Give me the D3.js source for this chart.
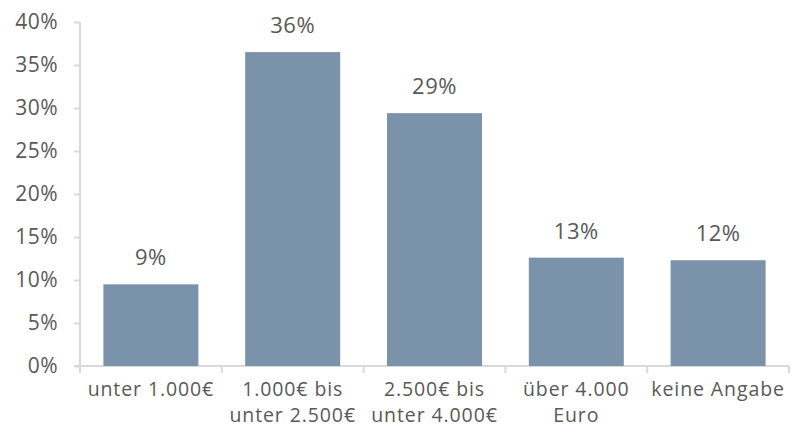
<!DOCTYPE html>
<html>
<head>
<meta charset="utf-8">
<script src="https://cdn.jsdelivr.net/npm/d3@7"></script>
<style>
  body { margin: 0; background: #fff; }
  text { font-family: "Open Sans", sans-serif; fill: #595959; letter-spacing: 0.5px; }
  .axis path, .axis line { stroke: #d9d9d9; stroke-width: 2; }
</style>
</head>
<body>
<div id="chart"></div>
<script>
const categories = [
  ["unter 1.000€"],
  ["1.000€ bis", "unter 2.500€"],
  ["2.500€ bis", "unter 4.000€"],
  ["über 4.000", "Euro"],
  ["keine Angabe"]
];
const values = [9.5, 36.5, 29.4, 12.6, 12.3];
const valueLabels = ["9%", "36%", "29%", "13%", "12%"];
const yTicks = [0, 5, 10, 15, 20, 25, 30, 35, 40];

const W = 792, H = 428;
const margin = { top: 22, right: 3, bottom: 62, left: 80 };
const width = W - margin.left - margin.right;
const height = H - margin.top - margin.bottom;

const svg = d3.select("#chart").append("svg")
  .attr("width", W).attr("height", H);

const chart = svg.append("g")
  .attr("transform", `translate(${margin.left},${margin.top})`);

const xScale = d3.scaleBand()
  .domain(d3.range(categories.length))
  .range([0, width])
  .paddingInner(0.33).paddingOuter(0.165);
const yScale = d3.scaleLinear().domain([0, 40]).range([height, 0]);

// y axis
const yAxis = chart.append("g").attr("class", "axis")
  .call(d3.axisLeft(yScale).tickValues(yTicks).tickSize(6).tickPadding(16)
    .tickFormat(d => d + "%"));
yAxis.select(".domain").attr("d", `M0,0V${height}`);
yAxis.selectAll("text").style("font-size", "21px");

// x axis with boundary ticks
const bounds = d3.range(categories.length + 1).map(i => i * width / categories.length);
const xAxis = chart.append("g").attr("class", "axis")
  .attr("transform", `translate(0,${height})`);
xAxis.append("path").attr("d", `M-6,0H${width}`);
xAxis.selectAll("line").data(bounds).enter().append("line")
  .attr("x1", d => d).attr("x2", d => d).attr("y1", 0).attr("y2", 7);

const labels = xAxis.selectAll("text.cat").data(categories).enter().append("text")
  .attr("class", "cat")
  .attr("text-anchor", "middle")
  .attr("x", (d, i) => xScale(i) + xScale.bandwidth() / 2)
  .attr("y", 30)
  .style("font-size", "19.5px")
  .style("letter-spacing", "0.9px");
labels.selectAll("tspan").data(d => d).enter().append("tspan")
  .attr("x", function () { return this.parentNode.getAttribute("x"); })
  .attr("dy", (d, i) => i === 0 ? 0 : 26)
  .text(d => d);

// bars
chart.selectAll("rect.bar").data(values).enter().append("rect")
  .attr("class", "bar")
  .attr("x", (d, i) => xScale(i))
  .attr("y", d => yScale(d))
  .attr("width", xScale.bandwidth())
  .attr("height", d => height - yScale(d))
  .attr("fill", "#7a93ab");

// value labels
chart.selectAll("text.val").data(values).enter().append("text")
  .attr("class", "val")
  .attr("text-anchor", "middle")
  .attr("x", (d, i) => xScale(i) + xScale.bandwidth() / 2)
  .attr("y", d => yScale(d) - 19)
  .style("font-size", "22px")
  .text((d, i) => valueLabels[i]);
</script>
</body>
</html>
